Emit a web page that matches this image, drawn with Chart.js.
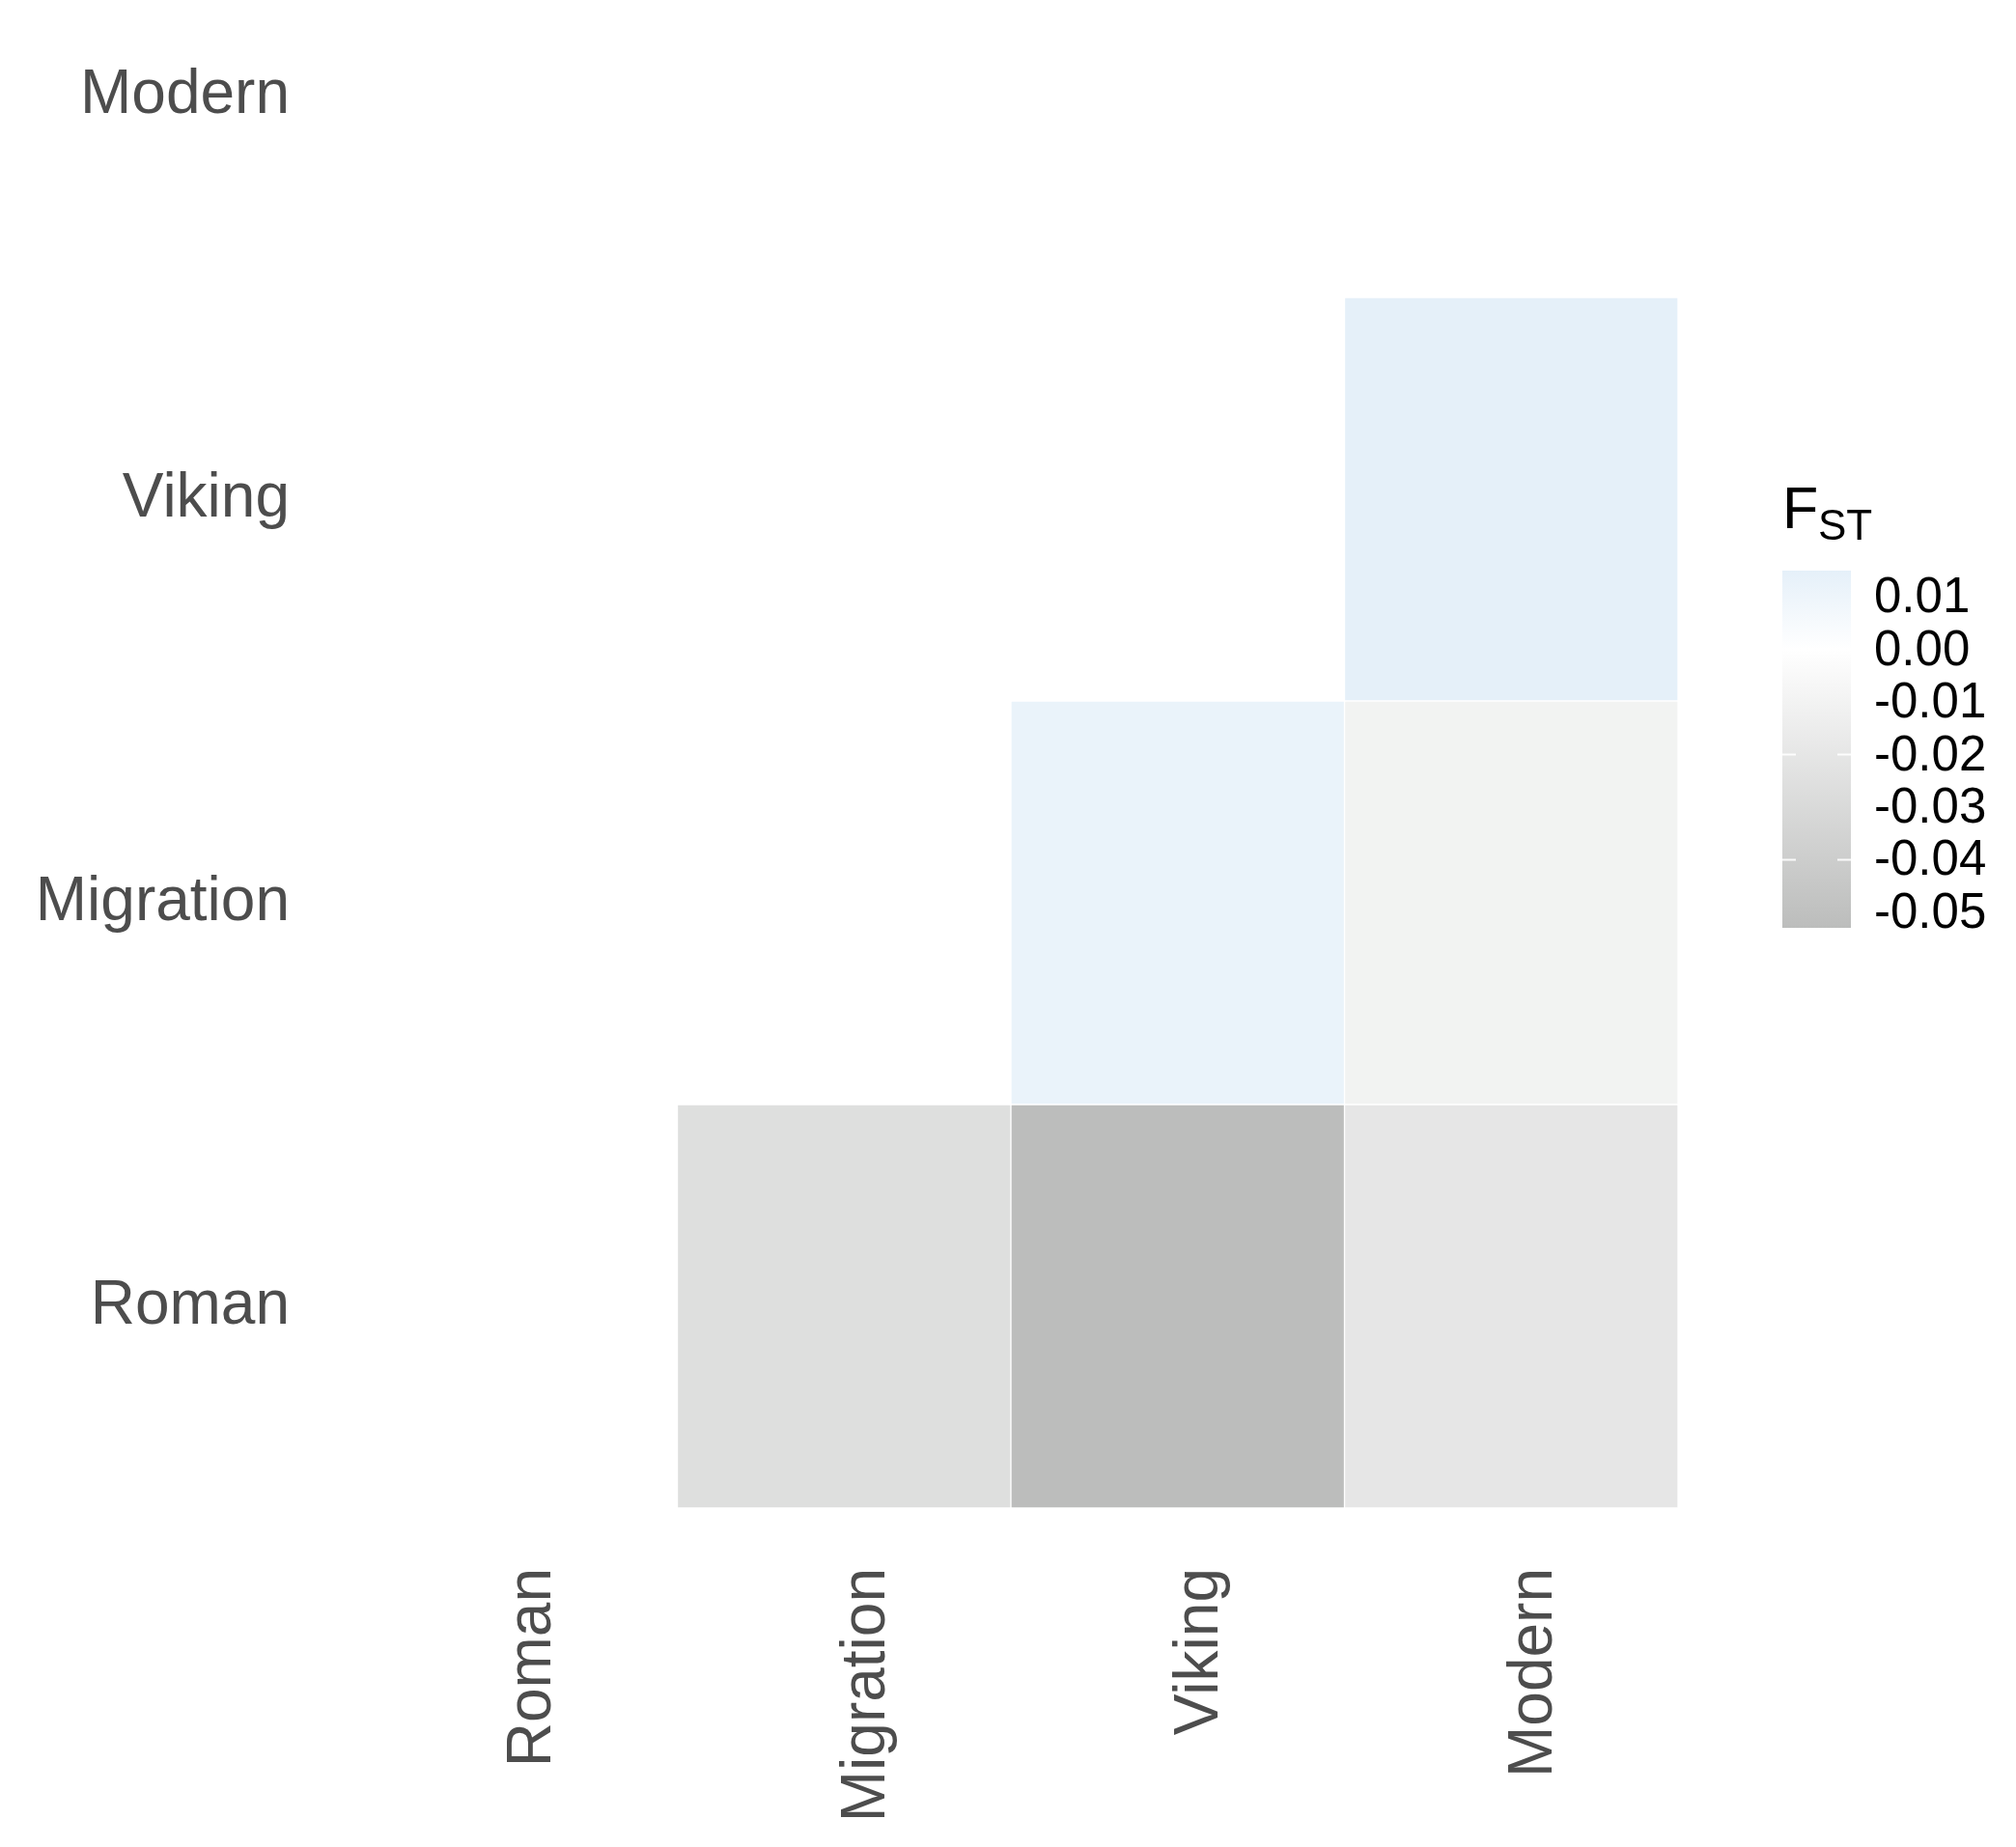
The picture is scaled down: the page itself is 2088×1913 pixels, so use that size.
<!DOCTYPE html>
<html>
<head>
<meta charset="utf-8">
<script src="https://cdn.jsdelivr.net/npm/chart.js@4.4.1/dist/chart.umd.min.js"></script>
<style>
  html, body { margin: 0; padding: 0; background: #fff; }
  #wrap { width: 2088px; height: 1913px; }
</style>
</head>
<body>
<div id="wrap"><canvas id="fst" width="2088" height="1913"></canvas></div>
<script>
// pairwise FST between periods (lower triangle only)
const periods = ['Roman', 'Migration', 'Viking', 'Modern']
const pairRows = ['Roman', 'Roman', 'Roman', 'Migration', 'Migration', 'Viking']
const pairCols = ['Migration', 'Viking', 'Modern', 'Viking', 'Modern', 'Modern']
const fstValues = [-0.026, -0.053, -0.020, 0.012, -0.010, 0.015]
const legendTicks = [0.01, 0.00, -0.01, -0.02, -0.03, -0.04, -0.05]
const legendTickLabels = ['0.01', '0.00', '-0.01', '-0.02', '-0.03', '-0.04', '-0.05']
const legendTickMarks = [-0.02, -0.04]

const FST_MIN = -0.053
const FST_MAX = 0.015
const LOW = [188, 189, 188]
const MID = [255, 255, 255]
const HIGH = [229, 240, 249]
const FONT = '"Liberation Sans", Arial, sans-serif'

function fstColor(v){
    const t = v >= 0 ? Math.min(v / FST_MAX, 1) : Math.min(v / FST_MIN, 1)
    const end = v >= 0 ? HIGH : LOW
    const c = MID.map((m, i) => Math.round(m + (end[i] - m) * t))
    return `rgb(${c[0]},${c[1]},${c[2]})`
}

const fstLegend = {
    id: 'fstLegend',
    afterDraw(chart){
        const ctx = chart.ctx
        const left = 1846, right = 1917, top = 591, bottom = 961
        const yOf = v => top + (FST_MAX - v) / (FST_MAX - FST_MIN) * (bottom - top)
        ctx.save()
        const grad = ctx.createLinearGradient(0, top, 0, bottom)
        grad.addColorStop(0, fstColor(FST_MAX))
        grad.addColorStop((yOf(0) - top) / (bottom - top), fstColor(0))
        grad.addColorStop(1, fstColor(FST_MIN))
        ctx.fillStyle = grad
        ctx.fillRect(left, top, right - left, bottom - top)

        // white tick marks on both sides of the bar
        ctx.strokeStyle = 'rgba(255,255,255,0.9)'
        ctx.lineWidth = 2
        for(const v of legendTickMarks){
            const y = Math.round(yOf(v)) + 0.5
            ctx.beginPath()
            ctx.moveTo(left, y); ctx.lineTo(left + 14, y)
            ctx.moveTo(right - 14, y); ctx.lineTo(right, y)
            ctx.stroke()
        }

        ctx.fillStyle = '#000000'
        ctx.textAlign = 'left'
        ctx.textBaseline = 'middle'
        ctx.font = `51px ${FONT}`
        legendTicks.forEach((v, i) => ctx.fillText(legendTickLabels[i], 1941, yOf(v) + 2))

        // title F with subscript ST
        ctx.textBaseline = 'alphabetic'
        ctx.font = `61px ${FONT}`
        ctx.fillText('F', 1846, 547)
        ctx.font = `44px ${FONT}`
        ctx.fillText('ST', 1883, 559)
        ctx.restore()
    }
}

const cells = fstValues.map((v, i) => {
    const r = periods.indexOf(pairRows[i]) + 1
    return { x: pairCols[i], y: [r - 0.5, r + 0.5] }
})

const chart = new Chart(document.getElementById('fst'), {
    type: 'bar',
    data: {
        labels: periods,
        datasets: [{
            label: 'FST',
            data: cells,
            backgroundColor: fstValues.map(fstColor),
            borderColor: 'rgba(255,255,255,0.5)',
            borderWidth: 1,
            borderSkipped: false,
            categoryPercentage: 1,
            barPercentage: 1,
            grouped: false
        }]
    },
    options: {
        responsive: false,
        animation: false,
        devicePixelRatio: 1,
        layout: { padding: { left: 0, right: 350, top: 0, bottom: 0 } },
        plugins: { legend: { display: false }, tooltip: { enabled: false } },
        scales: {
            x: {
                type: 'category',
                offset: true,
                grid: { display: false },
                border: { display: false },
                ticks: {
                    minRotation: 90,
                    maxRotation: 90,
                    autoSkip: false,
                    padding: 54,
                    color: '#4d4d4d',
                    font: { family: FONT, size: 64, lineHeight: 0.75 },
                    showLabelBackdrop: true,
                    backdropColor: 'rgba(0,0,0,0)',
                    backdropPadding: 0
                },
                afterFit(s){ s.height = 351; s.paddingLeft = 0; s.paddingRight = 0 }
            },
            y: {
                type: 'linear',
                min: 0.5,
                max: 4.237,
                grid: { display: false },
                border: { display: false },
                afterBuildTicks(s){ s.ticks = periods.map((p, i) => ({ value: i + 1 })) },
                ticks: {
                    padding: 48,
                    color: '#4d4d4d',
                    font: { family: FONT, size: 64 },
                    callback: v => periods[v - 1]
                },
                afterFit(s){ s.width = 356; s.paddingTop = 0; s.paddingBottom = 0 }
            }
        }
    },
    plugins: [fstLegend]
})
</script>
</body>
</html>
